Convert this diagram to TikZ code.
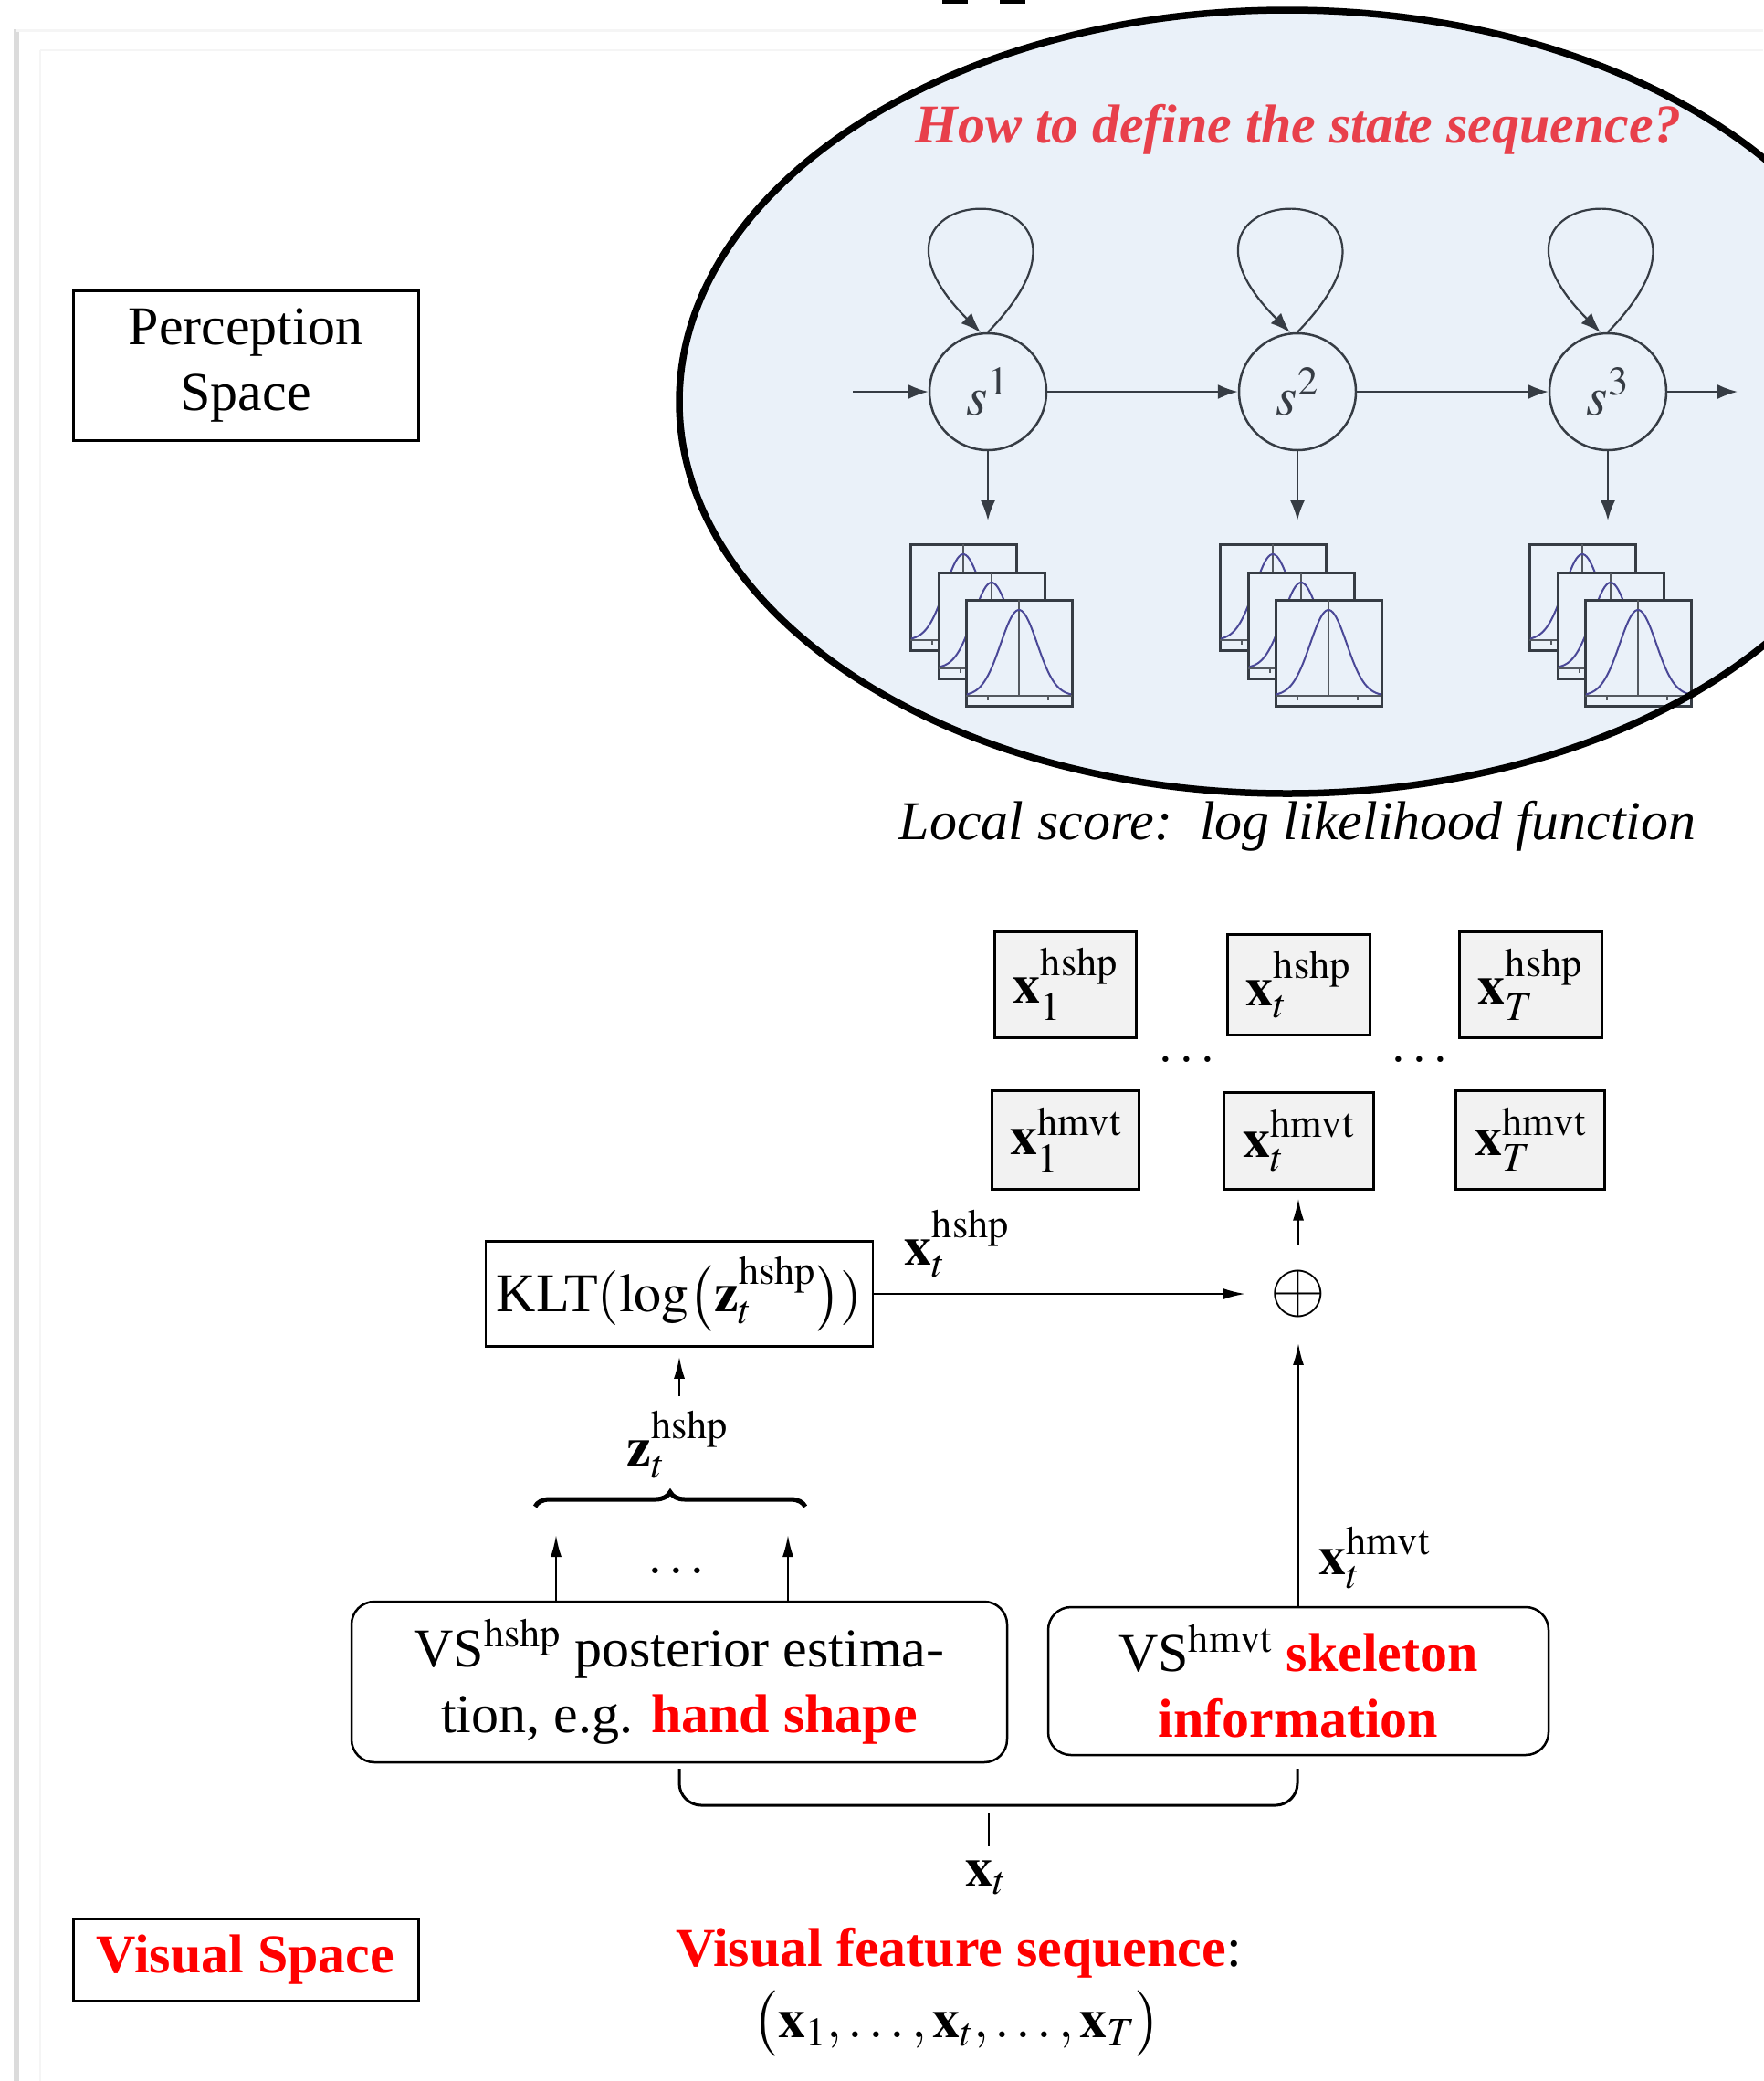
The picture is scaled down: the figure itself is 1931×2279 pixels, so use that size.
\documentclass[tikz,border=0pt]{standalone}
\usepackage{mathptmx}
\usepackage{fontspec}
\setmainfont{Liberation Serif}
\usetikzlibrary{decorations.pathreplacing,arrows.meta}
\definecolor{hmmc}{HTML}{363C44}
\definecolor{ellfill}{HTML}{EAF1F9}
\definecolor{titlered}{HTML}{E8404B}
\definecolor{gaussc}{HTML}{4A4897}
\definecolor{featfill}{HTML}{F2F2F2}
\newcommand\bigfont{\fontsize{60}{72}\selectfont}
\newcommand\gaussbox[2]{%
  \draw[line width=3pt, draw=hmmc, fill=ellfill] (#1,#2) rectangle ++(116,116);
  \draw[line width=2pt, draw=hmmc!85] (#1,#2+105) -- ++(116,0);
  \draw[line width=2pt, draw=hmmc!85] (#1+24,#2+105) -- ++(0,5);
  \draw[line width=2pt, draw=hmmc!85] (#1+90,#2+105) -- ++(0,5);
  \draw[line width=2pt, draw=hmmc!85] (#1+58,#2) -- ++(0,105);
  \draw[line width=2pt, gaussc] plot[domain=-57:57, samples=60] ({#1+58+\x},{#2+105-94*exp(-\x*\x/800)});
}
\tikzset{
  every node/.style={font=\bigfont},
  lbl/.style={inner sep=0pt},
  hmmarr/.style={draw=hmmc, line width=2.2pt, -{Latex[length=22pt,width=16pt]}},
  arr/.style={line width=2pt, -{Latex[length=24pt,width=12pt]}},
  statenode/.style={circle, draw=hmmc, line width=2.5pt, minimum size=128pt, inner sep=0pt, text=hmmc},
  featbox/.style={draw, line width=3pt, fill=featfill, inner sep=0pt},
  plainbox/.style={draw, line width=2.5pt},
  vsbox/.style={draw, line width=2.5pt, rounded corners=25pt, align=center}
}
\begin{document}
\begin{tikzpicture}[x=1pt,y=-1pt]
\useasboundingbox (0,0) rectangle (1931,2279);
% page frame remnants
\draw[line width=6pt, black!14] (18,32) -- (18,2279);
\draw[line width=3pt, black!4] (18,33) -- (1931,33);
\draw[line width=2pt, black!4] (44,55) -- (44,2279);
\draw[line width=2pt, black!4] (44,55) -- (1931,55);
\fill[black] (1032,0) rectangle (1060,4);
\fill[black] (1095,0) rectangle (1123,4);

% ellipse
\fill[ellfill] (1410,440) ellipse [x radius=666pt, y radius=429pt];

\node[lbl, text=titlered, font=\bigfont\bfseries\itshape] (title) at (1422,142) {How to define the state sequence?};

\node[statenode] (s1) at (1082,429) {$s^1$};
\node[statenode] (s2) at (1421,429) {$s^2$};
\node[statenode] (s3) at (1761,429) {$s^3$};
\coordinate (in1) at (934,429);
\coordinate (out3) at (1903,429);
\coordinate (d1) at (1082,570);
\coordinate (d2) at (1421,570);
\coordinate (d3) at (1761,570);
\draw[hmmarr] (in1) -- (s1);
\draw[hmmarr] (s1) -- (s2);
\draw[hmmarr] (s2) -- (s3);
\draw[hmmarr] (s3) -- (out3);
\draw[hmmarr] (s1) -- (d1);
\draw[hmmarr] (s2) -- (d2);
\draw[hmmarr] (s3) -- (d3);
\foreach \s in {s1,s2,s3}{
  \draw[hmmarr] (\s.north) .. controls +(175,-180) and +(-175,-176) .. (\s.97);
}

\foreach \k in {0,1,2}{
  \gaussbox{997+339*\k}{596}
  \gaussbox{1028+339*\k}{627}
  \gaussbox{1058+339*\k}{657}
}
\draw[line width=7.5pt] (1410,440) ellipse [x radius=666pt, y radius=429pt];

\node[lbl, font=\bigfont\itshape] (ls) at (1421,905) {Local score:\ \ log likelihood function};

\node[plainbox, minimum width=378pt, minimum height=164pt, align=center, line width=3pt] (perc) at (269,400) {Perception\\Space};

% feature boxes
\node[featbox, minimum width=155pt, minimum height=116pt] (h1) at (1167,1078) {$\mathbf{x}_1^{\mathrm{hshp}}$};
\node[featbox, minimum width=156pt, minimum height=110pt] (ht) at (1422,1078) {$\mathbf{x}_t^{\mathrm{hshp}}$};
\node[featbox, minimum width=156pt, minimum height=116pt] (hT) at (1676,1078) {$\mathbf{x}_T^{\mathrm{hshp}}$};
\node[featbox, minimum width=161pt, minimum height=108pt] (m1) at (1167,1248) {$\mathbf{x}_1^{\mathrm{hmvt}}$};
\node[featbox, minimum width=164pt, minimum height=106pt] (mt) at (1422,1249) {$\mathbf{x}_t^{\mathrm{hmvt}}$};
\node[featbox, minimum width=163pt, minimum height=108pt] (mT) at (1676,1248) {$\mathbf{x}_T^{\mathrm{hmvt}}$};
\node[lbl] (dA) at (1300,1160) {$\ldots$};
\node[lbl] (dB) at (1555,1160) {$\ldots$};

% KLT and oplus
\node[plainbox, minimum width=424pt, minimum height=115pt] (klt) at (744,1417) {KLT$(\log\bigl(\mathbf{z}_t^{\mathrm{hshp}}\bigr))$};
\node[inner sep=0pt, outer sep=28pt, font=\fontsize{78}{80}\selectfont] (plus) at (1422,1417) {$\oplus$};
\draw[arr] (klt) -- (plus);
\draw[arr, shorten >=9pt] (plus) -- (mt);
\node[lbl] (lxh) at (1048,1362) {$\mathbf{x}_t^{\mathrm{hshp}}$};

\coordinate (bz) at (744,1529);
\draw[arr, shorten >=10pt] (bz) -- (klt.south);
\node[lbl] (lz) at (742,1582) {$\mathbf{z}_t^{\mathrm{hshp}}$};
\draw[decorate, decoration={brace, amplitude=16pt}, line width=5pt] (586,1650) -- (882,1650);

% VS boxes
\node[vsbox, minimum width=718pt, minimum height=176pt] (vs1) at (744,1842) {VS$^{\mathrm{hshp}}$ posterior estima-\\tion, e.g. \textcolor{red}{\textbf{hand shape}}};
\node[vsbox, minimum width=548pt, minimum height=162pt] (vs2) at (1422,1841) {VS$^{\mathrm{hmvt}}$ \textcolor{red}{\textbf{skeleton}}\\\textcolor{red}{\textbf{information}}};
\coordinate (a1) at (609,1681);
\coordinate (a2) at (863,1681);
\draw[arr] (vs1.north -| a1) -- (a1);
\draw[arr] (vs1.north -| a2) -- (a2);
\node[lbl] (dC) at (741,1720) {$\ldots$};
\draw[arr] (vs2) -- (plus);
\node[lbl] (lxm) at (1505,1706) {$\mathbf{x}_t^{\mathrm{hmvt}}$};

% bottom bracket
\coordinate (bl) at (744,1937);
\coordinate (br) at (1421,1937);
\draw[line width=3pt, rounded corners=24pt] (bl) -- (bl |- 0,1977) -- (br |- 0,1977) -- (br);
\coordinate (vt) at (1083,1985);
\coordinate (vb) at (1083,2022);
\draw[line width=1.5pt] (vt) -- (vb);
\node[lbl] (lxt) at (1080,2056) {$\mathbf{x}_t$};

\node[plainbox, line width=3pt, minimum width=378pt, minimum height=90pt, text=red, font=\bigfont\bfseries] (vspace) at (269,2146) {Visual Space};
\node[lbl] (vfs) at (1050,2139) {\textcolor{red}{\textbf{Visual feature sequence}}:};
\node[lbl] (seq) at (1048,2216) {$\bigl(\mathbf{x}_1,\ldots,\mathbf{x}_t,\ldots,\mathbf{x}_T\bigr)$};
\end{tikzpicture}
\end{document}
